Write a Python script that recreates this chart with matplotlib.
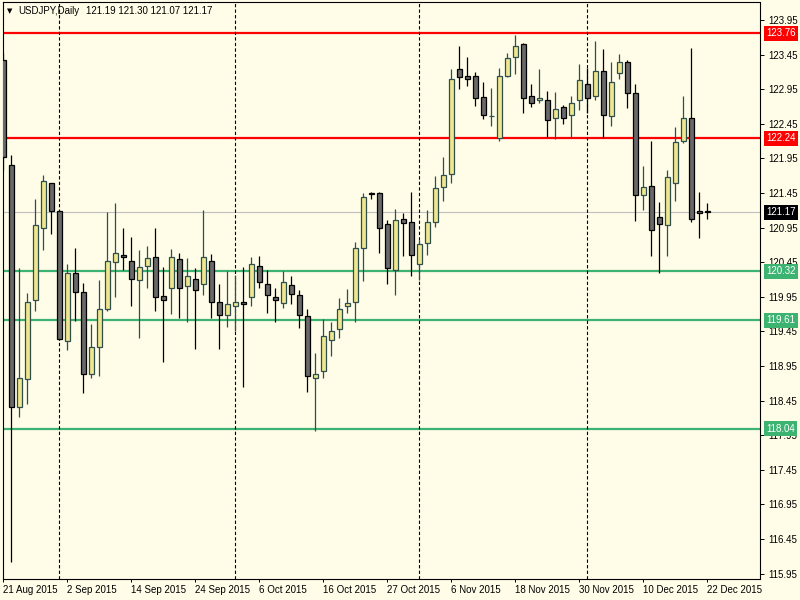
import numpy as np
import matplotlib
matplotlib.use("Agg")
import matplotlib.pyplot as plt
from matplotlib.transforms import blended_transform_factory

# daily USDJPY candles, 21 Aug 2015 .. 22 Dec 2015
opens = [123.37, 121.85, 118.35, 118.76, 119.90, 120.95, 121.59, 121.19, 119.31, 120.30,
         120.02, 118.83, 119.22, 119.78, 120.45, 120.56, 120.46, 120.19, 120.39, 120.53,
         119.96, 120.07, 120.49, 120.11, 120.20, 120.14, 120.46, 119.87, 119.68, 119.81,
         119.88, 119.94, 120.39, 120.14, 119.94, 119.86, 120.12, 119.97, 119.67, 118.78,
         118.87, 119.33, 119.49, 119.81, 119.87, 120.66, 121.45, 121.45, 121.00, 120.33,
         121.07, 121.03, 120.43, 120.72, 121.03, 121.53, 121.72, 123.24, 123.14, 123.14,
         122.83, 122.56, 122.25, 123.14, 123.42, 123.60, 122.85, 122.79, 122.80, 122.53,
         122.69, 122.57, 122.79, 123.03, 122.85, 123.22, 122.56, 123.18, 123.35, 122.89,
         121.42, 121.55, 121.10, 120.98, 121.60, 122.20, 122.53, 121.19, 121.19]
highs = [123.48, 122.00, 120.36, 120.00, 121.37, 121.71, 121.60, 121.20, 120.43, 120.66,
         120.15, 119.56, 120.19, 121.18, 121.30, 120.94, 120.81, 120.63, 120.69, 120.95,
         120.38, 120.64, 120.58, 120.51, 120.36, 121.21, 120.57, 120.13, 120.32, 120.26,
         120.38, 120.52, 120.54, 120.34, 120.08, 120.32, 120.25, 120.05, 119.77, 119.14,
         119.63, 119.59, 119.93, 120.06, 120.74, 121.45, 121.46, 121.46, 121.06, 121.22,
         121.16, 121.46, 120.77, 121.20, 121.69, 121.97, 123.24, 123.57, 123.41, 123.20,
         123.05, 122.96, 123.25, 123.47, 123.74, 123.62, 123.02, 123.24, 122.93, 122.91,
         122.72, 122.85, 123.31, 123.25, 123.65, 123.53, 123.34, 123.46, 123.37, 123.02,
         121.84, 122.20, 121.32, 121.78, 122.41, 122.85, 123.55, 121.47, 121.30]
lows = [121.78, 116.12, 118.21, 118.40, 119.75, 120.63, 120.85, 119.33, 119.18, 119.60,
        118.56, 118.77, 118.81, 119.75, 119.94, 120.33, 119.81, 119.36, 120.07, 119.75,
        119.01, 119.70, 119.65, 119.59, 119.19, 119.98, 119.65, 119.20, 119.52, 119.46,
        118.64, 119.82, 120.07, 119.71, 119.59, 119.79, 119.85, 119.50, 118.58, 118.01,
        118.78, 119.10, 119.36, 119.72, 119.58, 120.18, 121.36, 120.58, 120.13, 119.98,
        120.54, 120.25, 120.19, 120.56, 120.96, 121.34, 121.59, 122.95, 122.99, 122.70,
        122.52, 122.42, 122.20, 123.12, 123.17, 122.60, 122.69, 122.75, 122.26, 122.23,
        122.45, 122.25, 122.65, 122.61, 122.79, 122.25, 122.42, 123.10, 122.68, 121.05,
        121.21, 120.54, 120.30, 120.54, 121.34, 122.17, 121.03, 120.80, 121.07]
closes = [121.97, 118.36, 118.77, 119.87, 120.98, 121.62, 121.19, 119.34, 120.29, 120.02,
          118.84, 119.23, 119.77, 120.46, 120.58, 120.53, 120.20, 120.38, 120.51, 119.94,
          119.91, 120.53, 120.07, 120.25, 120.05, 120.53, 119.88, 119.68, 119.84, 119.88,
          119.85, 120.42, 120.17, 119.97, 119.90, 120.16, 119.99, 119.68, 118.80, 118.83,
          119.39, 119.45, 119.78, 119.86, 120.65, 121.39, 121.43, 120.95, 120.36, 121.06,
          121.01, 120.55, 120.71, 121.03, 121.52, 121.71, 123.09, 123.12, 123.09, 122.82,
          122.57, 122.56, 123.14, 123.40, 123.58, 122.82, 122.75, 122.82, 122.50, 122.66,
          122.53, 122.75, 123.08, 122.82, 123.21, 122.57, 123.06, 123.34, 122.90, 121.42,
          121.53, 120.92, 121.00, 121.68, 122.18, 122.53, 121.07, 121.16, 121.17]

date_labels = ["21 Aug 2015", "2 Sep 2015", "14 Sep 2015", "24 Sep 2015", "6 Oct 2015",
               "16 Oct 2015", "27 Oct 2015", "6 Nov 2015", "18 Nov 2015", "30 Nov 2015",
               "10 Dec 2015", "22 Dec 2015"]
date_pos = [0, 8, 16, 24, 32, 40, 48, 56, 64, 72, 80, 88]
month_starts = [7, 29, 52, 73]

red_levels = [123.76, 122.24]
green_levels = [120.32, 119.61, 118.04]
bid = 121.17
yticks = np.arange(115.95, 124.0, 0.5)

bg = "#FFFCE8"
bull_fill, bull_edge = "#F0E68C", "#2F4F4F"
bear_fill, bear_edge = "#696969", "#000000"
red, green = "#FF0000", "#3CB371"
font = "Liberation Sans"

fig = plt.figure(figsize=(8, 6), dpi=100, facecolor=bg)
ax = fig.add_axes([2.7 / 800, 21 / 600, 756.8 / 800, 577 / 600], facecolor=bg)

x = np.arange(len(opens))
o = np.array(opens); h = np.array(highs); l = np.array(lows); c = np.array(closes)
up = c >= o

# levels and separators behind the candles
for lv in red_levels:
    ax.axhline(lv, color=red, lw=1.6, zorder=1)
for lv in green_levels:
    ax.axhline(lv, color=green, lw=1.6, zorder=1)
ax.axhline(bid, color="#C0C0C0", lw=0.8, zorder=1)
for m in month_starts:
    ax.axvline(m, color="black", lw=0.8, ls=(0, (3, 2)), zorder=1.5)

ax.vlines(x[up], l[up], h[up], color=bull_edge, lw=0.9, zorder=2)
ax.vlines(x[~up], l[~up], h[~up], color=bear_edge, lw=0.9, zorder=2)
ax.bar(x[up], (c - o)[up], bottom=o[up], width=0.56, color=bull_fill,
       edgecolor=bull_edge, linewidth=0.9, zorder=3)
ax.bar(x[~up], (o - c)[~up], bottom=c[~up], width=0.56, color=bear_fill,
       edgecolor=bear_edge, linewidth=0.9, zorder=3)

ax.set_xlim(-0.075, 94.5)
ax.set_ylim(115.871, 124.21)

ax.yaxis.tick_right()
ax.set_yticks(yticks)
ax.set_yticklabels([f"{v:.2f}" for v in yticks], fontsize=7, family=font)
ax.tick_params(axis="y", length=3, width=0.7, pad=3, colors="black")
ax.set_xticks(date_pos)
ax.set_xticklabels(date_labels, fontsize=7, family=font, ha="left")
ax.tick_params(axis="x", length=2, width=0.7, pad=2)
for s in ax.spines.values():
    s.set_linewidth(0.8)

# price labels on the right scale
tr = blended_transform_factory(ax.transAxes, ax.transData)
for lv, col in [(red_levels[0], red), (red_levels[1], red), (green_levels[0], green),
                (green_levels[1], green), (green_levels[2], green), (bid, "black")]:
    ax.text(1.0087, lv, f"{lv:.2f}", transform=tr, fontsize=7, family=font, color="white",
            va="center", ha="left", clip_on=False, zorder=5,
            bbox=dict(boxstyle="square,pad=0.25", facecolor=col, edgecolor="none"))

fig.text(7 / 800, 1 - 11 / 600, "\u25bc", fontsize=5, va="center", ha="left", color="black")
fig.text(18 / 800, 1 - 11 / 600, "USDJPY,Daily", fontsize=7, family=font, va="center", ha="left")
fig.text(86 / 800, 1 - 11 / 600, "121.19 121.30 121.07 121.17", fontsize=7, family=font,
         va="center", ha="left")

fig.savefig("out.png", dpi=100, facecolor=bg)
